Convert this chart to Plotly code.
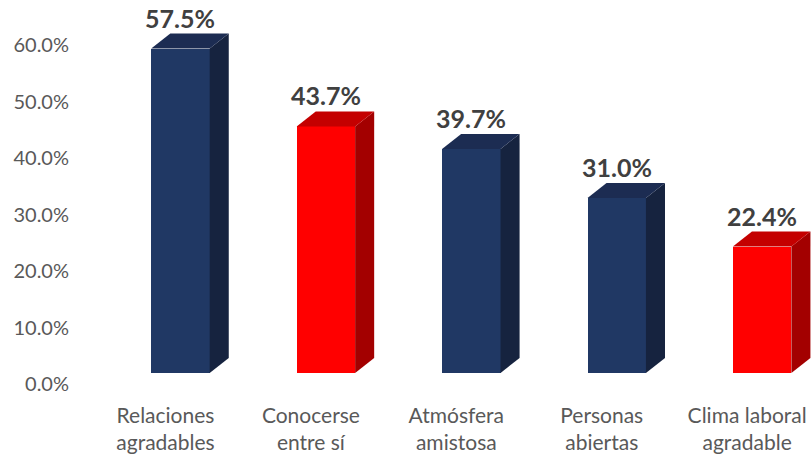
import plotly.graph_objects as go

# Survey results: share of responses per category (percent)
categories = ["Relaciones<br>agradables", "Conocerse<br>entre sí", "Atmósfera<br>amistosa",
              "Personas<br>abiertas", "Clima laboral<br>agradable"]
values = [57.5, 43.7, 39.7, 31.0, 22.4]
highlight = [False, True, False, False, True]
y_ticks = [0, 10, 20, 30, 40, 50, 60]

# Face colours for the pseudo-3D columns: (front, side, top)
BLUE = ("#203864", "#16233F", "#1C2C52")
RED = ("#FF0000", "#A30000", "#C40000")

W = 0.402      # front-face width in category units
DX = 0.131     # depth offset along x (category units)
DY = 2.66      # depth offset along y (percent units)

xs = list(range(len(values)))
fig = go.Figure()

# Front faces
fig.add_trace(go.Bar(
    x=xs, y=values, width=W,
    marker=dict(color=[(RED if h else BLUE)[0] for h in highlight], line=dict(width=0)),
    hoverinfo="skip", showlegend=False,
))

# Side and top faces as filled polygons in data coordinates
for x, v, h in zip(xs, values, highlight):
    pal = RED if h else BLUE
    r = x + W / 2
    l = x - W / 2
    fig.add_trace(go.Scatter(
        x=[r, r + DX, r + DX, r, r], y=[0, DY, v + DY, v, 0],
        mode="lines", fill="toself", fillcolor=pal[1],
        line=dict(width=0, color=pal[1]), hoverinfo="skip", showlegend=False,
    ))
    fig.add_trace(go.Scatter(
        x=[l, l + DX, r + DX, r, l], y=[v, v + DY, v + DY, v, v],
        mode="lines", fill="toself", fillcolor=pal[2],
        line=dict(width=0, color=pal[2]), hoverinfo="skip", showlegend=False,
    ))
    fig.add_annotation(
        x=x, y=v + DY, text=f"<b>{v:.1f}%</b>", showarrow=False,
        xanchor="center", yanchor="bottom", yshift=-1,
        font=dict(family="Lato", size=25, color="#404040"),
    )

fig.update_layout(
    width=811, height=455,
    margin=dict(l=80, r=0, t=0, b=82),
    paper_bgcolor="white", plot_bgcolor="white",
    bargap=0,
    xaxis=dict(
        range=[-0.691, 4.336], tickmode="array", tickvals=xs, ticktext=categories,
        showgrid=False, zeroline=False, showline=False, ticks="",
        tickfont=dict(family="Lato", size=21, color="#595959"),
        ticklabelstandoff=28, ticklabelshift=-15,
    ),
    yaxis=dict(
        range=[0, 66.1], tickmode="array", tickvals=y_ticks,
        ticktext=[f"{t:.1f}%" for t in y_ticks],
        showgrid=False, zeroline=False, showline=False, ticks="",
        tickfont=dict(family="Lato", size=20, color="#595959"),
        ticklabelshift=11, ticklabelstandoff=10,
    ),
)

fig.write_html("out.html")
